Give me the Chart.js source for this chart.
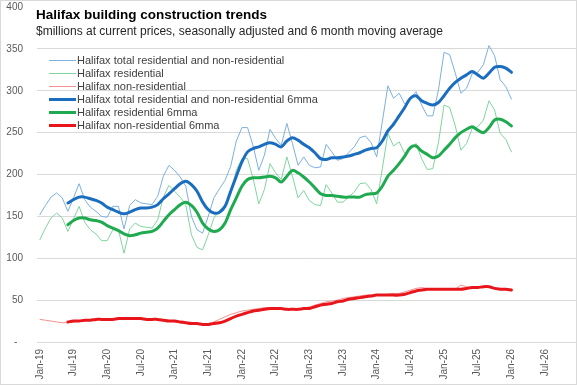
<!DOCTYPE html>
<html>
<head>
<meta charset="utf-8">
<script src="https://cdn.jsdelivr.net/npm/chart.js@4.4.1/dist/chart.umd.min.js"></script>
<style>
html, body { margin: 0; padding: 0; background: #fff; }
</style>
</head>
<body>
<canvas id="chart" width="577" height="385"></canvas>
<script>
// Axis categories: monthly, Jan-19 .. Dec-26
const monthNames = ['Jan', 'Feb', 'Mar', 'Apr', 'May', 'Jun', 'Jul', 'Aug', 'Sep', 'Oct', 'Nov', 'Dec'];
const years = ['19', '20', '21', '22', '23', '24', '25', '26'];
const yTicks = [0, 50, 100, 150, 200, 250, 300, 350, 400];

// Monthly values, Jan-19 .. Jan-26 ($ millions)
const totalMonthly = [152, 163, 173, 178, 172, 156, 172, 189, 170, 161, 156, 150, 149, 162, 162, 135, 163, 170, 166, 165,
    164, 174, 198, 211, 205, 197, 186, 150, 134, 130, 150, 172, 183, 193, 210, 240, 256, 256, 234, 205,
    223, 254, 243, 235, 261, 237, 211, 221, 211, 208, 209, 236, 227, 217, 219, 226, 233, 244, 246, 238,
    221, 263, 306, 291, 297, 284, 291, 299, 283, 270, 270, 301, 346, 343, 321, 297, 303, 320, 322, 331,
    354, 342, 313, 305, 290];
const resMonthly = [122, 136, 148, 154, 148, 132, 147, 162, 143, 134, 129, 121, 121, 134, 134, 106, 135, 142, 138, 137,
    136, 146, 173, 187, 180, 173, 164, 128, 113, 110, 128, 148, 157, 164, 177, 205, 219, 219, 195, 165,
    182, 213, 202, 194, 221, 198, 172, 181, 169, 164, 163, 188, 178, 167, 167, 173, 179, 189, 190, 182,
    165, 207, 249, 234, 239, 225, 230, 237, 219, 206, 207, 238, 283, 280, 258, 229, 237, 255, 257, 265,
    288, 277, 249, 242, 227];
const nonResMonthly = [27, 26, 25, 24, 23, 23, 24, 25, 26, 26, 27, 27, 27, 27, 28, 28, 28, 28, 27, 27,
    27, 27, 26, 25, 24, 23, 22, 22, 21, 21, 22, 24, 27, 30, 33, 35, 37, 38, 39, 40,
    41, 41, 41, 40, 40, 39, 39, 40, 42, 44, 46, 48, 49, 50, 52, 53, 54, 55, 56, 56,
    56, 56, 57, 58, 58, 60, 62, 64, 65, 64, 63, 63, 63, 63, 63, 68, 66, 65, 65, 66,
    66, 65, 64, 63, 63];

// 6 month moving averages, first value Jun-19
const total6mma = [null, null, null, null, null,
    166, 170, 173, 173, 171, 169, 166, 161, 158, 155, 153, 155, 158, 160, 160,
    161, 164, 171, 177, 183, 189, 192, 188, 180, 167, 158, 154, 155, 162, 180, 198, 215, 227, 231, 233,
    236, 238, 236, 233, 240, 244, 241, 236, 232, 226, 219, 218, 220, 220, 221, 222, 224, 226, 229, 231,
    232, 240, 252, 260, 270, 280, 291, 294, 288, 285, 283, 286, 294, 303, 310, 315, 319, 323, 319, 315,
    321, 328, 329, 327, 322];
const res6mma = [null, null, null, null, null,
    140, 145, 148, 148, 146, 145, 143, 139, 136, 133, 129, 127, 128, 130, 131,
    132, 136, 144, 152, 158, 164, 167, 163, 155, 142, 135, 132, 134, 142, 158, 172, 186, 194, 196, 196,
    197, 198, 196, 191, 198, 205, 202, 197, 191, 184, 177, 175, 175, 174, 173, 173, 173, 173, 176, 177,
    178, 186, 198, 205, 213, 222, 232, 234, 228, 224, 220, 222, 229, 236, 244, 250, 254, 257, 253, 250,
    256, 265, 266, 263, 258];
const nonRes6mma = [null, null, null, null, null,
    24, 25, 25, 26, 26, 27, 27, 27, 27, 28, 28, 28, 28, 28, 27,
    27, 27, 26, 25, 25, 24, 23, 22, 22, 21, 21, 22, 23, 25, 28, 31, 33, 35, 37, 38,
    39, 40, 40, 40, 39, 39, 39, 40, 40, 42, 44, 45, 46, 48, 49, 51, 52, 53, 54, 55,
    56, 56, 56, 56, 56, 57, 59, 61, 62, 63, 63, 63, 63, 63, 63, 63, 64, 65, 65, 66,
    66, 64, 63, 63, 62];

const titleText = 'Halifax building construction trends';
const subtitleText = '$millions at current prices, seasonally adjusted and 6 month moving average';

const categories = [];
years.forEach(y => monthNames.forEach(m => categories.push(m + '-' + y)));

// title, subtitle and legend sit inside the plot, like the Excel original
const overlay = {
    id: 'overlay',
    afterDraw(chart) {
        const ctx = chart.ctx;
        ctx.save();
        ctx.textBaseline = 'middle';
        ctx.textAlign = 'left';
        ctx.fillStyle = '#000000';
        ctx.font = 'bold 13.5px "Liberation Sans"';
        ctx.fillText(titleText, 36, 15);
        ctx.fillStyle = '#262626';
        ctx.font = '12px "Liberation Sans"';
        ctx.fillText(subtitleText, 36, 31.5);

        ctx.font = '11px "Liberation Sans"';
        chart.data.datasets.forEach((ds, k) => {
            const y = 60.5 + k * 13;
            ctx.strokeStyle = ds.borderColor;
            ctx.lineWidth = ds.borderWidth;
            ctx.beginPath();
            ctx.moveTo(49, y);
            ctx.lineTo(76, y);
            ctx.stroke();
            ctx.fillStyle = '#404040';
            ctx.fillText(ds.label, 77, y);
        });

        ctx.strokeStyle = '#d9d9d9';
        ctx.lineWidth = 1;
        ctx.strokeRect(0.5, 0.5, chart.width - 1, chart.height - 1);
        ctx.restore();
    }
};

const ctx = document.getElementById('chart').getContext('2d');
new Chart(ctx, {
    type: 'line',
    data: {
        labels: categories,
        datasets: [
            { label: 'Halifax total residential and non-residential', data: totalMonthly, borderColor: '#7cb0e0', borderWidth: 1, tension: 0, order: 5 },
            { label: 'Halifax residential', data: resMonthly, borderColor: '#80d4a0', borderWidth: 1, tension: 0, order: 4 },
            { label: 'Halifax non-residential', data: nonResMonthly, borderColor: '#f29090', borderWidth: 1, tension: 0, order: 3 },
            { label: 'Halifax total residential and non-residential 6mma', data: total6mma, borderColor: '#1b6ebf', borderWidth: 3, tension: 0.3, order: 2 },
            { label: 'Halifax residential 6mma', data: res6mma, borderColor: '#1faa4f', borderWidth: 3, tension: 0.3, order: 1 },
            { label: 'Halifax non-residential 6mma', data: nonRes6mma, borderColor: '#e8161b', borderWidth: 3, tension: 0.3, order: 0 }
        ]
    },
    options: {
        responsive: false,
        animation: false,
        devicePixelRatio: 1,
        layout: { padding: { top: 7, right: 1, bottom: 0, left: 0 } },
        elements: { point: { radius: 0 }, line: { borderCapStyle: 'round', borderJoinStyle: 'round' } },
        plugins: {
            legend: { display: false },
            title: { display: false },
            tooltip: { enabled: false }
        },
        scales: {
            x: {
                offset: true,
                grid: { display: false, drawTicks: false },
                border: { display: true, color: '#d9d9d9' },
                ticks: {
                    autoSkip: false,
                    minRotation: 90,
                    maxRotation: 90,
                    padding: 7,
                    color: '#595959',
                    font: { family: 'Liberation Sans', size: 10 },
                    callback: (v, i) => (i % 6 === 0 ? categories[i] : '')
                },
                afterFit: (scale) => {
                    scale.height = 43;
                    scale.paddingLeft = 0;
                    scale.paddingRight = 0;
                }
            },
            y: {
                min: yTicks[0],
                max: yTicks[yTicks.length - 1],
                afterBuildTicks: (scale) => { scale.ticks = yTicks.map(v => ({ value: v })); },
                grid: {
                    drawTicks: false,
                    color: (c) => (c.tick && c.tick.value === 400 ? 'rgba(0,0,0,0)' : '#d9d9d9')
                },
                border: { display: false },
                ticks: {
                    padding: 14,
                    color: '#595959',
                    font: { family: 'Liberation Sans', size: 10 },
                    callback: (v) => (v === 0 ? '-  ' : v)
                },
                afterFit: (scale) => {
                    scale.width = 37;
                    scale.paddingTop = 0;
                    scale.paddingBottom = 0;
                }
            }
        }
    },
    plugins: [overlay]
});
</script>
</body>
</html>
